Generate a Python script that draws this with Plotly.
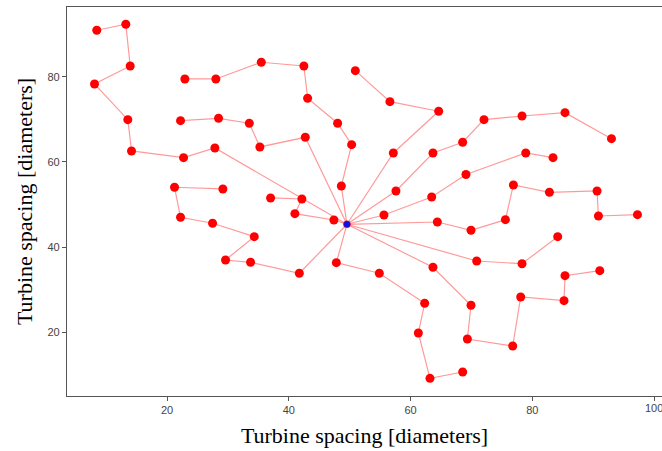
import plotly.graph_objects as go

# Substation location
substation_x = [49.55]
substation_y = [45.35]

# Cable strings (each starts at the substation)
s1_x = [27.86, 22.71, 14.17, 13.56, 8.09, 13.95, 13.23, 8.46]
s1_y = [63.26, 60.99, 62.56, 69.91, 78.29, 82.51, 92.30, 90.89]
s2_x = [42.71, 35.25, 33.51, 28.46, 22.22]
s2_y = [65.77, 63.50, 69.06, 70.23, 69.67]
s3_x = [48.63, 50.32, 48.02, 43.09, 42.48, 35.48, 28.02, 22.93]
s3_y = [54.34, 64.04, 69.06, 74.93, 82.51, 83.38, 79.46, 79.46]
s4_x = [57.17, 64.62, 56.61, 50.93]
s4_y = [62.09, 71.88, 74.13, 81.41]
s5_x = [57.60, 63.68, 68.56, 72.06, 78.31, 85.37, 93.00]
s5_y = [53.17, 62.09, 64.60, 69.91, 70.77, 71.55, 65.45]
s6_x = [55.63, 63.47, 69.10, 78.92, 83.40]
s6_y = [47.54, 51.76, 57.04, 62.09, 60.99]
s7_x = [64.40, 69.93, 75.58, 76.89, 82.81, 90.63, 90.86, 97.27]
s7_y = [45.89, 43.94, 46.43, 54.58, 52.86, 53.17, 47.30, 47.61]
s8_x = [70.86, 78.31, 84.17]
s8_y = [36.74, 36.10, 42.44]
s9_x = [63.68, 69.93, 69.33, 76.78, 78.09, 85.21, 85.37, 91.08]
s9_y = [35.26, 26.34, 18.43, 16.78, 28.29, 27.42, 33.29, 34.46]
s10_x = [47.81, 54.87, 62.32, 61.28, 63.19, 68.56]
s10_y = [36.34, 33.85, 26.81, 19.84, 9.20, 10.68]
s11_x = [41.73, 33.72, 29.61, 34.33, 27.48, 22.22, 21.23, 29.17]
s11_y = [33.85, 36.43, 36.97, 42.44, 45.59, 47.00, 54.04, 53.64]
s12_x = [47.41, 41.00, 42.15, 37.01]
s12_y = [46.36, 47.84, 51.29, 51.53]

strings = [(s1_x, s1_y), (s2_x, s2_y), (s3_x, s3_y), (s4_x, s4_y),
           (s5_x, s5_y), (s6_x, s6_y), (s7_x, s7_y), (s8_x, s8_y),
           (s9_x, s9_y), (s10_x, s10_y), (s11_x, s11_y), (s12_x, s12_y)]

x_ticks = [20, 40, 60, 80, 100]
y_ticks = [20, 40, 60, 80]

fig = go.Figure()

# cables
for sx, sy in strings:
    fig.add_trace(go.Scatter(
        x=substation_x + sx, y=substation_y + sy, mode="lines",
        line=dict(color="rgba(255,0,0,0.4)", width=1.2),
        hoverinfo="skip", showlegend=False))

# turbines
all_x = [v for sx, _ in strings for v in sx]
all_y = [v for _, sy in strings for v in sy]
fig.add_trace(go.Scatter(
    x=all_x, y=all_y, mode="markers",
    marker=dict(color="#ff0000", size=9, line=dict(width=0)),
    showlegend=False))

# substation
fig.add_trace(go.Scatter(
    x=substation_x, y=substation_y, mode="markers",
    marker=dict(color="#1010e0", size=7, line=dict(color="rgba(255,0,0,0.5)", width=1)),
    showlegend=False))

tickfont = dict(family="Liberation Sans, Arial", size=11, color="#444444")
titlefont = dict(family="Liberation Serif, Times New Roman", size=22, color="#000000")

# last x tick label sits at the page edge; draw it as text so it is not dropped
fig.add_annotation(x=x_ticks[-1], y=0, xref="x", yref="paper", yanchor="top",
                   yshift=-4, text=str(x_ticks[-1]), showarrow=False,
                   font=tickfont, xanchor="center")

fig.update_layout(
    width=662, height=451,
    margin=dict(l=67, r=0, t=7, b=55),
    paper_bgcolor="white", plot_bgcolor="white",
    xaxis=dict(range=[3.57, 101.3], tickvals=x_ticks,
               ticktext=[str(t) for t in x_ticks[:-1]] + [""],
               showgrid=False, zeroline=False, showline=True, linecolor="#555555",
               linewidth=1.2, mirror=True, ticks="outside", ticklen=4, tickcolor="#555555",
               tickfont=tickfont,
               title=dict(text="Turbine spacing [diameters]", font=titlefont, standoff=12)),
    yaxis=dict(range=[5.05, 96.35], tickvals=y_ticks, ticktext=[str(t) for t in y_ticks],
               showgrid=False, zeroline=False, showline=True, linecolor="#555555",
               linewidth=1.2, mirror=False, ticks="outside", ticklen=4, tickcolor="#555555",
               tickfont=tickfont,
               title=dict(text="Turbine spacing [diameters]", font=titlefont, standoff=8)),
)

fig.write_html("out.html")
